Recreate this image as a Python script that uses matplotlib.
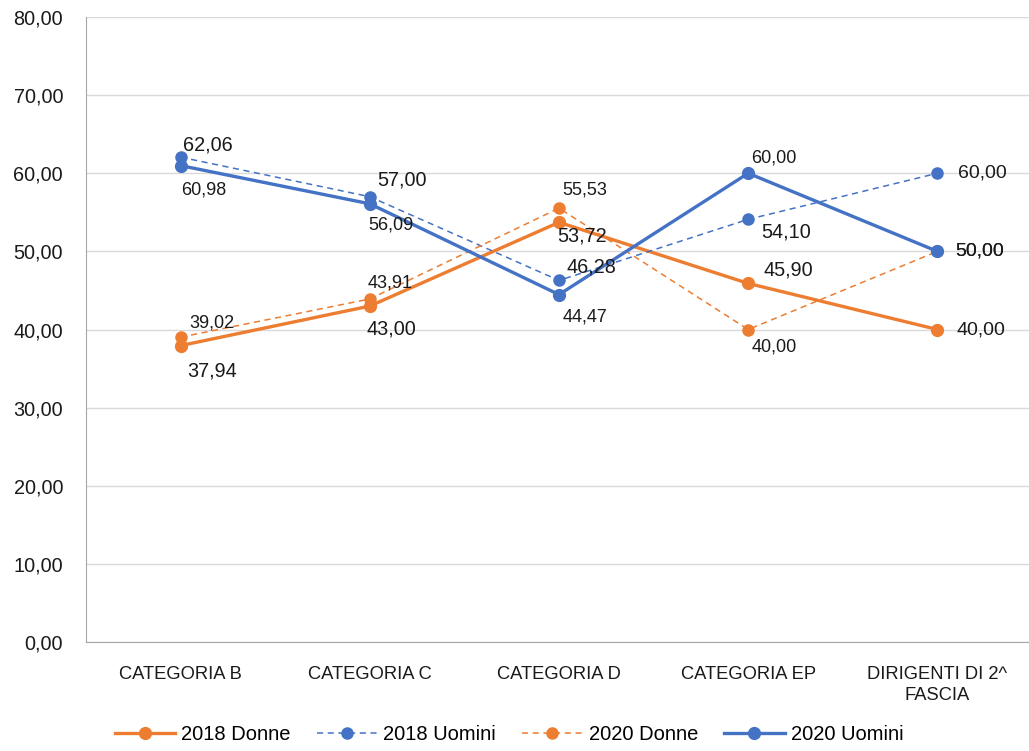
import matplotlib
matplotlib.use("Agg")
from matplotlib import pyplot as plt
import numpy as np

categories = ["CATEGORIA B", "CATEGORIA C", "CATEGORIA D", "CATEGORIA EP", "DIRIGENTI DI 2^\nFASCIA"]

donne_2018 = [37.94, 43.00, 53.72, 45.90, 40.00]
uomini_2018 = [62.06, 57.00, 46.28, 54.10, 60.00]
donne_2020 = [39.02, 43.91, 55.53, 40.00, 50.00]
uomini_2020 = [60.98, 56.09, 44.47, 60.00, 50.00]

# label offsets in pixels (dx, dy up)
off_d18 = [(31, -25), (22, -23), (23, -14), (40, 13), (44, 0)]
off_u18 = [(27, 12), (32, 17), (32, 13), (38, -13), (45, 0)]
off_d20 = [(31, 14), (20, 16), (26, 18), (26, -17), (42, 0)]
off_u20 = [(23, -24), (21, -21), (26, -22), (26, 15), (42, 0)]

ORANGE = "#ED7D31"
BLUE = "#4472C4"
TXT = "#1a1a1a"

plt.rcParams['font.family'] = ['Liberation Sans', 'DejaVu Sans']

fig = plt.figure(figsize=(10.29, 7.51), dpi=100)
ax = fig.add_axes([86/1029, 1-642/751, 946/1029, 625/751])

x = np.arange(len(categories))

series = [
    ("2018 Donne", donne_2018, ORANGE, "-", 2.4, 8.5, off_d18, 14.3),
    ("2018 Uomini", uomini_2018, BLUE, "--", 1.1, 8, off_u18, 14.3),
    ("2020 Donne", donne_2020, ORANGE, "--", 1.1, 8, off_d20, 13),
    ("2020 Uomini", uomini_2020, BLUE, "-", 2.4, 8.5, off_u20, 13),
]

for name, vals, col, ls, lw, ms, offs, fs in series:
    if ls == "--":
        ax.plot(x, vals, color=col, linewidth=lw, marker="o", markersize=ms,
                label=name, dashes=(4, 3))
    else:
        ax.plot(x, vals, color=col, linewidth=lw, marker="o", markersize=ms,
                label=name)
    for i, (xi, v, o) in enumerate(zip(x, vals, offs)):
        size = 14 if i == len(vals) - 1 else fs
        ax.annotate(f"{v:.2f}".replace(".", ","), (xi, v), xytext=o,
                    textcoords="offset pixels", ha="center", va="center",
                    fontsize=size, color=TXT)

ax.set_xlim(-0.5, 4.5)
ax.set_ylim(0, 80)
yt = np.arange(0, 81, 10)
ax.set_yticks(yt)
ax.set_yticklabels([f"{v:.2f}".replace(".", ",") for v in yt])
ax.set_xticks(x)
ax.set_xticklabels(categories, linespacing=1.3)
ax.grid(axis="y", color="#D9D9D9", linewidth=1)
ax.set_axisbelow(True)
ax.tick_params(axis="y", length=0, pad=16.5, labelsize=14.3, colors=TXT)
ax.tick_params(axis="x", length=0, pad=17, labelsize=13.2, colors=TXT)
for s in ["top", "right"]:
    ax.spines[s].set_visible(False)
ax.spines["left"].set_color("#A6A6A6")
ax.spines["bottom"].set_color("#A6A6A6")

ax.legend(loc="center", bbox_to_anchor=(509/1029, 1-735/751), bbox_transform=fig.transFigure,
          ncol=4, frameon=False, fontsize=14.5, handlelength=3.0, columnspacing=1.3,
          handletextpad=0.3, borderpad=0)

fig.savefig("out.png", dpi=100)
